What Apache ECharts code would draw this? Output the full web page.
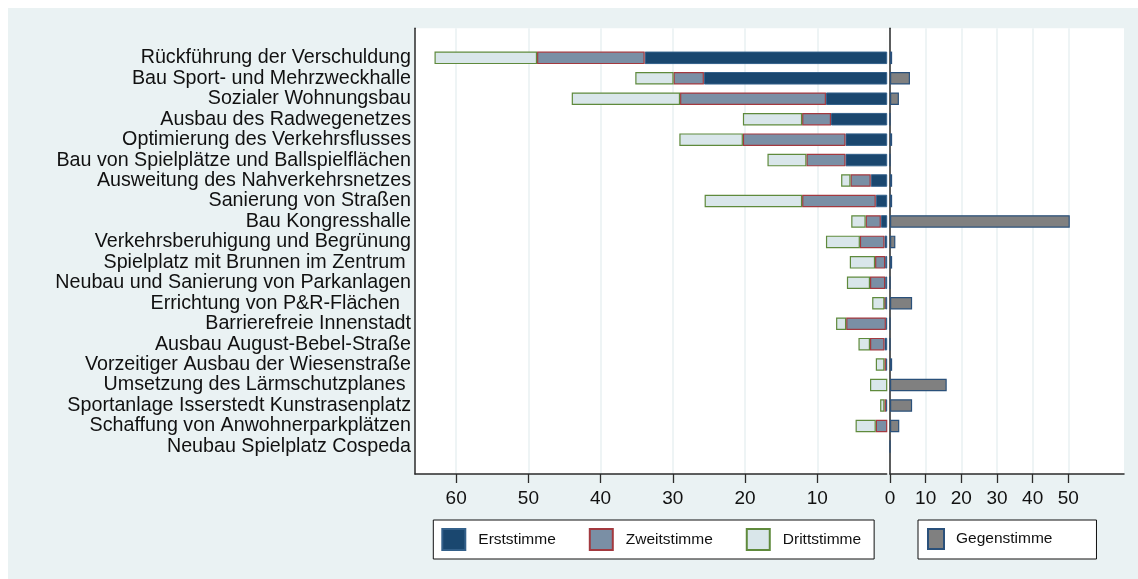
<!DOCTYPE html>
<html>
<head>
<meta charset="utf-8">
<script src="https://cdn.jsdelivr.net/npm/echarts@6/dist/echarts.min.js"></script>
<style>
  html, body { margin: 0; padding: 0; background: #ffffff; }
  #chart { position: absolute; left: 8px; top: 8px; width: 1130px; height: 571px; }
</style>
</head>
<body>
<div id="chart"></div>
<script>
// ---- data ----
const categories = [
  'Rückführung der Verschuldung',
  'Bau Sport- und Mehrzweckhalle',
  'Sozialer Wohnungsbau',
  'Ausbau des Radwegenetzes',
  'Optimierung des Verkehrsflusses',
  'Bau von Spielplätze und Ballspielflächen',
  'Ausweitung des Nahverkehrsnetzes',
  'Sanierung von Straßen',
  'Bau Kongresshalle',
  'Verkehrsberuhigung und Begrünung',
  'Spielplatz mit Brunnen im Zentrum ',
  'Neubau und Sanierung von Parkanlagen',
  'Errichtung von P&R-Flächen  ',
  'Barrierefreie Innenstadt',
  'Ausbau August-Bebel-Straße',
  'Vorzeitiger Ausbau der Wiesenstraße',
  'Umsetzung des Lärmschutzplanes ',
  'Sportanlage Isserstedt Kunstrasenplatz',
  'Schaffung von Anwohnerparkplätzen',
  'Neubau Spielplatz Cospeda'
];
const erststimme  = [33.9, 25.7, 8.8, 8.1, 6.1, 6.1, 2.6, 1.9, 1.2, 0.7, 0.6, 0.6, 0.6, 0.5, 0.7, 0.5, 0, 0.5, 0, 0];
const zweitstimme = [14.9, 4.2, 20.2, 4.0, 14.2, 5.4, 2.8, 10.2, 2.1, 3.4, 1.4, 2.1, 0.1, 5.5, 2.0, 0.2, 0, 0.2, 1.9, 0];
const drittstimme = [14.2, 5.3, 15.0, 8.2, 8.8, 5.4, 1.3, 13.5, 2.0, 4.7, 3.5, 3.2, 1.7, 1.4, 1.6, 1.2, 2.7, 0.6, 2.8, 0];
const gegenstimme = [0.6, 5.6, 2.5, 0, 0.6, 0, 0.6, 0.6, 50.4, 1.5, 0.6, 0, 6.2, 0, 0, 0.6, 15.9, 6.2, 2.6, 0];
const leftTicks  = [10, 20, 30, 40, 50, 60];
const rightTicks = [0, 10, 20, 30, 40, 50];

// ---- chart ----
const FONT = 'Liberation Sans, Arial, sans-serif';
const LMIN = 0.39, LMAX = 65.7, RMIN = 0, RMAX = 65.6;
const axisCol = '#2b2b2b';
const gridCol = '#eaf2f3';

const chart = echarts.init(document.getElementById('chart'), null, { renderer: 'canvas' });

const frameX = (inverse, min, max, ticks) => ({
  type: 'value', inverse, min, max,
  axisLine: { show: true, onZero: false, lineStyle: { color: axisCol, width: 1.5 } },
  axisTick: { show: true, length: 9, customValues: ticks, lineStyle: { color: axisCol, width: 1.3 } },
  axisLabel: { show: true, customValues: ticks, margin: 15, fontSize: 19, fontFamily: FONT, color: '#111' },
  splitLine: { show: true, lineStyle: { color: gridCol, width: 1.6 } }
});

const option = {
  backgroundColor: '#eaf2f3',
  animation: false,
  textStyle: { fontFamily: FONT },
  grid: [
    // frame grids (plot regions)
    { left: 407, top: 20.3, width: 471.7, height: 445.7, show: true, backgroundColor: '#ffffff', borderWidth: 0 },
    { left: 882, top: 20.3, width: 234, height: 445.7, show: true, backgroundColor: '#ffffff', borderWidth: 0 },
    // data grids
    { left: 407, top: 39.6, width: 471.7, height: 409 },
    { left: 882, top: 39.6, width: 234, height: 409 }
  ],
  xAxis: [
    Object.assign({ gridIndex: 0 }, frameX(true, LMIN, LMAX, leftTicks)),
    Object.assign({ gridIndex: 1 }, frameX(false, RMIN, RMAX, rightTicks)),
    { gridIndex: 2, type: 'value', inverse: true, min: LMIN, max: LMAX, show: false },
    { gridIndex: 3, type: 'value', min: RMIN, max: RMAX, show: false }
  ],
  yAxis: [
    { gridIndex: 0, type: 'value', min: 0, max: 1,
      axisLine: { show: true, lineStyle: { color: axisCol, width: 1.5 } },
      axisTick: { show: false }, axisLabel: { show: false }, splitLine: { show: false } },
    { gridIndex: 1, type: 'value', min: 0, max: 1,
      axisLine: { show: true, lineStyle: { color: axisCol, width: 1.5 } },
      axisTick: { show: false }, axisLabel: { show: false }, splitLine: { show: false } },
    { gridIndex: 2, type: 'category', inverse: true, data: categories,
      axisLine: { show: false }, axisTick: { show: false }, splitLine: { show: false },
      axisLabel: { show: true, margin: 4, fontSize: 19.7, fontFamily: FONT, color: '#111', interval: 0 } },
    { gridIndex: 3, type: 'category', inverse: true, data: categories, show: false }
  ],
  legend: [
    { data: ['Erststimme', 'Zweitstimme', 'Drittstimme'], left: 425.3, top: 512, orient: 'horizontal',
      icon: 'rect', itemWidth: 23, itemHeight: 21, itemGap: 33, selectedMode: false,
      backgroundColor: '#ffffff', borderColor: '#111', borderWidth: 1, padding: [8, 13, 8, 8],
      textStyle: { fontSize: 15.5, fontFamily: FONT, color: '#111', padding: [0, 0, 0, 8] } },
    { data: ['Gegenstimme'], left: 910, top: 512, orient: 'horizontal',
      icon: 'rect', itemWidth: 16, itemHeight: 20, selectedMode: false,
      backgroundColor: '#ffffff', borderColor: '#111', borderWidth: 1, padding: [8, 44, 9, 9],
      textStyle: { fontSize: 15.5, fontFamily: FONT, color: '#111', padding: [0, 0, 0, 7] } }
  ],
  graphic: [
    { type: 'rect', shape: { x: 878.7, y: 20.3, width: 2.6, height: 445.7 }, style: { fill: '#ffffff' }, z: -1 }
  ],
  series: [
    { name: 'Erststimme', type: 'bar', xAxisIndex: 2, yAxisIndex: 2, stack: 'L', barWidth: 12.5,
      itemStyle: { color: '#1a476f', borderColor: '#33608a', borderWidth: 1 }, data: erststimme },
    { name: 'Zweitstimme', type: 'bar', xAxisIndex: 2, yAxisIndex: 2, stack: 'L', barWidth: 12.5,
      itemStyle: { color: '#7a8fa5', borderColor: '#a3393f', borderWidth: 1.2 }, data: zweitstimme },
    { name: 'Drittstimme', type: 'bar', xAxisIndex: 2, yAxisIndex: 2, stack: 'L', barWidth: 12.5,
      itemStyle: { color: '#d9e6ea', borderColor: '#5f8a3c', borderWidth: 1.2 }, data: drittstimme },
    { name: 'Gegenstimme', type: 'bar', xAxisIndex: 3, yAxisIndex: 3, barWidth: 12.5,
      itemStyle: { color: '#808080', borderColor: '#2a507a', borderWidth: 1.2 }, data: gegenstimme }
  ]
};
chart.setOption(option);
</script>
</body>
</html>
